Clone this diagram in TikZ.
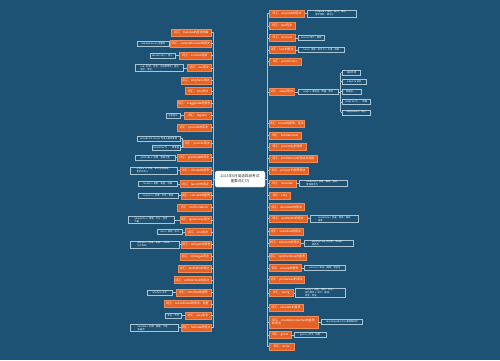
\documentclass[tikz,border=0pt]{standalone}
\usepackage{fontspec}
\setmainfont{Noto Sans CJK SC}
\definecolor{bg}{RGB}{29,82,117}
\definecolor{orangeC}{RGB}{229,98,38}
\definecolor{orangeB}{RGB}{240,140,90}
\definecolor{cbd}{RGB}{170,198,214}
\definecolor{lnc}{RGB}{165,195,212}
\begin{document}
\begin{tikzpicture}[x=1pt,y=-1pt,
  ob/.style={rectangle,fill=orangeC,draw=orangeB,line width=0.25pt,text=white,
    font=\fontsize{2.9}{3.5}\selectfont,inner sep=0.6pt,minimum height=7pt,align=left},
  cb/.style={rectangle,fill=bg,draw=cbd,line width=0.3pt,text=white,
    font=\fontsize{2.3}{2.9}\selectfont,inner sep=0.8pt,minimum height=5pt,align=left},
  ln/.style={draw=lnc,line width=0.5pt},
  centerbox/.style={rectangle,rounded corners=1.5pt,fill=white,draw=cbd,line width=0.3pt,
    text=black!80,font=\fontsize{3.6}{4.6}\selectfont,align=center,
    minimum width=50pt,minimum height=16pt,inner sep=1pt}]
\fill[bg] (0,0) rectangle (500,360);
\useasboundingbox (0,0) rectangle (500,360);
\newcommand\LB[4]{\node[ob,anchor=east,minimum width=#3pt] (#1) at (211,#2) {#4};}
\newcommand\RB[4]{\node[ob,anchor=west,minimum width=#3pt] (#1) at (269,#2) {#4};}
\newcommand\LC[6]{\node[cb,anchor=east,minimum width=#4pt] (#1) at (#2,#3) {#6};
  \draw[ln] (#1.east) -- (#5.west);}
\newcommand\RC[6]{\node[cb,anchor=west,minimum width=#4pt] (#1) at (#2,#3) {#6};
  \draw[ln] (#5.east) -- (#1.west);}
% trunks
\coordinate (ltop) at (213,32.3);
\coordinate (lbot) at (213,327.7);
\coordinate (rtop) at (267,13.3);
\coordinate (rbot) at (267,346.5);
\draw[ln] (ltop) -- (lbot);
\draw[ln] (rtop) -- (rbot);
% center
\node[centerbox] (C) at (240,179) {2023年6月英语四级考试\\重要词汇(7)};
\draw[ln] (C.west) -- (C.west -| ltop);
\draw[ln] (C.east) -- (C.east -| rtop);
% left main boxes
\LB{L1}{32.3}{39.3}{词汇：massive的用法详解}
\LB{L2}{43.7}{40.3}{词汇：comprehensive的用法}
\LB{L3}{55.5}{32}{词汇：concern用法}
\LB{L4}{67.8}{23.3}{词汇：sue用法}
\LB{L5}{80.2}{30}{词汇：emphasis用法}
\LB{L6}{91}{25.3}{词汇：vital用法}
\LB{L7}{103.3}{33.3}{词汇：exaggerate的意思}
\LB{L8}{115.5}{26.7}{词汇：register}
\LB{L9}{127.2}{34}{词汇：precede的用法}
\LB{L10}{143.2}{27.3}{词汇：provide用法}
\LB{L11}{157.5}{33.3}{词汇：gratitude的用法}
\LB{L12}{170.5}{30.7}{词汇：scholar的意思}
\LB{L13}{184}{30.7}{词汇：launch的用法}
\LB{L14}{195.7}{30}{词汇：consent的意思}
\LB{L15}{207.3}{33.3}{词汇：confrontation}
\LB{L16}{219.8}{31}{词汇：generosity用法}
\LB{L17}{232}{25.7}{词汇：vice用法}
\LB{L18}{244.5}{29.3}{词汇：whisper的意思}
\LB{L19}{256.5}{31}{词汇：colleague用法}
\LB{L20}{268.3}{32.7}{词汇：aesthetic的用法}
\LB{L21}{280}{37}{词汇：architecture的用法}
\LB{L22}{292.3}{35}{词汇：interfere的意思}
\LB{L23}{303.8}{47}{词汇：subordinate的用法、短语}
\LB{L24}{315.3}{26}{词汇：vary用法}
\LB{L25}{327.7}{29.3}{词汇：hesitate的用法}
\foreach \k in {1,...,25}{\draw[ln] (L\k.east) -- (L\k.east -| ltop);}
% left children
\LC{c2}{169.3}{43.7}{31.6}{L2}{comprehensive 全面的}
\LC{c3}{175}{55.5}{25}{L3}{concern 关心；担心}
\LC{c4}{183.7}{67.8}{48}{L4}{sue：起诉，控告；向法院申诉；提出\\请求，恳求。}
\LC{c8}{180.3}{115.5}{14.3}{L8}{注册登记}
\LC{c11}{175}{157.5}{39.3}{L11}{gratitude n. 感激，感谢之情}
\LC{c12}{177.7}{170.5}{47.7}{L12}{scholar n. 学者；奖学金获得者；\\有学问的人}
\LC{c13}{177.3}{184}{38.6}{L13}{launch v. 发射；发起，开展}
\LC{c14}{178.3}{195.7}{39.6}{L14}{consent n. 同意，许可，赞成}
\LC{c16}{174}{219.8}{45.7}{L16}{generosity n. 慷慨，大方；宽宏\\大量}
\LC{c17}{182.7}{232}{25.4}{L17}{vice n. 邪恶；恶习}
\LC{c18}{179.3}{244.5}{49.3}{L18}{whisper v. 低语，耳语；小声说；\\沙沙作响}
\LC{c22}{172.3}{292.3}{25.3}{L22}{interfere 干涉}
\LC{c24}{181.7}{315.3}{16.4}{L24}{变化，不同}
\LC{c25}{178}{327.7}{48}{L25}{hesitate v. 犹豫，踌躇；不愿，\\有疑虑}
% L10 two children
\node[cb,anchor=east,minimum width=42.3pt] (c10a) at (180,138.5) {provide sth. for sb. 为某人提供某物};
\node[cb,anchor=east,minimum width=27.3pt] (c10b) at (180,147.7) {provide for 为……做准备};
\coordinate (k10) at (181.8,143.2);
\draw[ln] (L10.west) -- (k10);
\draw[ln] (k10) |- (c10a.east);
\draw[ln] (k10) |- (c10b.east);
% right main boxes
\RB{R1}{13.3}{35.3}{词汇：suspend的用法}
\RB{R2}{25.8}{26}{词汇：quit用法}
\RB{R3}{37.8}{26}{词汇：account}
\RB{R4}{49.8}{26}{词汇：lure的用法}
\RB{R5}{61.2}{31.7}{词汇：preliminary}
\RB{R6}{92}{25.3}{词汇：adapt用法}
\RB{R7}{123.3}{35.3}{词汇：boost的意思、用法}
\RB{R8}{135.3}{32}{词汇：fundamental}
\RB{R9}{147}{36.7}{词汇：proximity的意思}
\RB{R10}{158.5}{48.3}{词汇：entitlement的用法及短语}
\RB{R11}{170.2}{38.7}{词汇：prosper的意思用法}
\RB{R12}{183.3}{26.7}{词汇：renovate}
\RB{R13}{195.2}{21.3}{词汇：rally}
\RB{R14}{207}{35}{词汇：abundant的用法}
\RB{R15}{218.7}{37.7}{词汇：accelerate的用法}
\RB{R16}{231.7}{33.7}{词汇：subsidize的用法}
\RB{R17}{243}{31.3}{词汇：adjacent的用法}
\RB{R18}{256.3}{36.7}{词汇：spontaneous的意思}
\RB{R19}{268}{31.7}{词汇：ensure的意思}
\RB{R20}{279.7}{35}{词汇：productive的用法}
\RB{R21}{292.8}{24.3}{词汇：swing}
\RB{R22}{307.5}{33.7}{词汇：obsolete的意思}
\node[ob,anchor=west,minimum width=48.7pt,minimum height=11.7pt] (R23) at (269,321.8) {词汇：counterproductive的意思\\和用法};
\RB{R24}{334.8}{21.7}{词汇：grant}
\RB{R25}{346.5}{25}{词汇：strive}
\foreach \k in {1,...,25}{\draw[ln] (R\k.west) -- (R\k.west -| rtop);}
% right children
\RC{r1}{307.3}{13.3}{48.4}{R1}{suspend v. 悬挂；暂停；推迟；\\暂令停职，使中止}
\RC{r3}{298.3}{37.8}{26}{R3}{account 账户；解释}
\RC{r4}{298.3}{49.8}{46}{R4}{lure n. 诱惑，吸引力 v. 引诱，诱惑}
\RC{r6}{298.3}{92}{39.4}{R6}{adapt v. 使适应；改编；改写}
\RC{r12}{299}{183.3}{47.7}{R12}{renovate v. 修复，翻新；整修；\\使恢复活力}
\RC{r15}{310}{218.7}{48.3}{R15}{accelerate v. 加速，促进；增加\\速度}
\RC{r17}{303.7}{243}{49}{R17}{adjacent adj. 邻近的，毗连的；\\接近的}
\RC{r19}{304.3}{268}{41}{R19}{ensure v. 保证，确保；使安全}
\RC{r21}{295.3}{292.8}{49.3}{R21}{swing v. 摇摆，摆动；转向；\\突然转变 n. 秋千；摆动；\\转变，改变}
\RC{r23}{321}{321.8}{41.3}{R23}{counterproductive 适得其反的}
\RC{r24}{294.3}{334.8}{31.4}{R24}{grant v. 授予；同意}
% grandchildren of r6
\coordinate (gtop) at (340.5,72.5);
\coordinate (gbot) at (340.5,112.2);
\draw[ln] (gtop) -- (gbot);
\draw[ln] (r6.east) -- (r6.east -| gtop);
\node[cb,anchor=west,minimum width=18pt] (g1) at (342.3,72.5) {适应环境};
\node[cb,anchor=west,minimum width=23.7pt] (g2) at (342.3,81.7) {adapt to 适应};
\node[cb,anchor=west,minimum width=19pt] (g3) at (342.3,91.5) {改编自……};
\node[cb,anchor=west,minimum width=27.4pt] (g4) at (342.3,101.8) {adapt for 为……改编};
\node[cb,anchor=west,minimum width=27.4pt] (g5) at (342.3,112.2) {adaptation n. 适应};
\foreach \k in {1,...,5}{\draw[ln] (g\k.west) -- (g\k.west -| gtop);}
\end{tikzpicture}
\end{document}
